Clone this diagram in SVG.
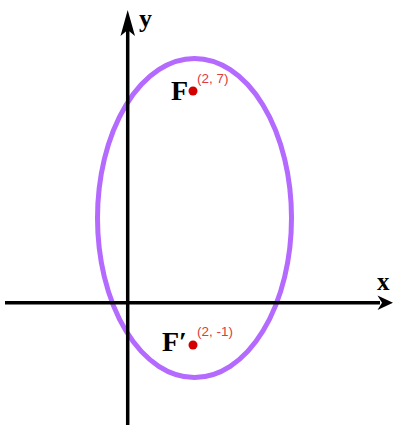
<svg xmlns="http://www.w3.org/2000/svg" width="393" height="425" viewBox="0 0 393 425">
<style>
.axis{stroke:#000;stroke-width:3.5;fill:none}
.lbl{font-family:"Liberation Serif",serif;font-weight:bold;fill:#000}
.coord{font-family:"Liberation Sans",Arial,sans-serif;font-size:13.5px;fill:#e03a3a}
.pt{fill:#d40000}
</style>
<rect width="393" height="425" fill="#fff"/>
<g id="ellipse">
<ellipse cx="194.5" cy="218" rx="97" ry="159.5" fill="none" stroke="#b469ff" stroke-width="5"/>
</g>
<g id="connectors">
<line class="axis" x1="127.7" y1="425" x2="127.7" y2="26"/>
<polygon points="127.7,10 135,36 127.7,30 120.5,36" fill="#000"/>
<line class="axis" x1="5" y1="302.7" x2="380" y2="302.7"/>
<polygon points="393,302.7 377.5,310 382,302.7 377.5,295.5" fill="#000"/>
</g>
<g id="y-label"><text class="lbl" x="139" y="27" font-size="26">y</text></g>
<g id="x-label"><text class="lbl" x="377" y="290" font-size="25">x</text></g>
<g id="F">
<circle class="pt" cx="193" cy="91" r="4.5"/>
<text class="lbl" x="171" y="100" font-size="28">F</text>
<text class="coord" x="197" y="83">(2, 7)</text>
</g>
<g id="F-prime">
<circle class="pt" cx="193" cy="345" r="4.5"/>
<text class="lbl" x="162" y="351" font-size="28">F′</text>
<text class="coord" x="197" y="336">(2, -1)</text>
</g>
</svg>
